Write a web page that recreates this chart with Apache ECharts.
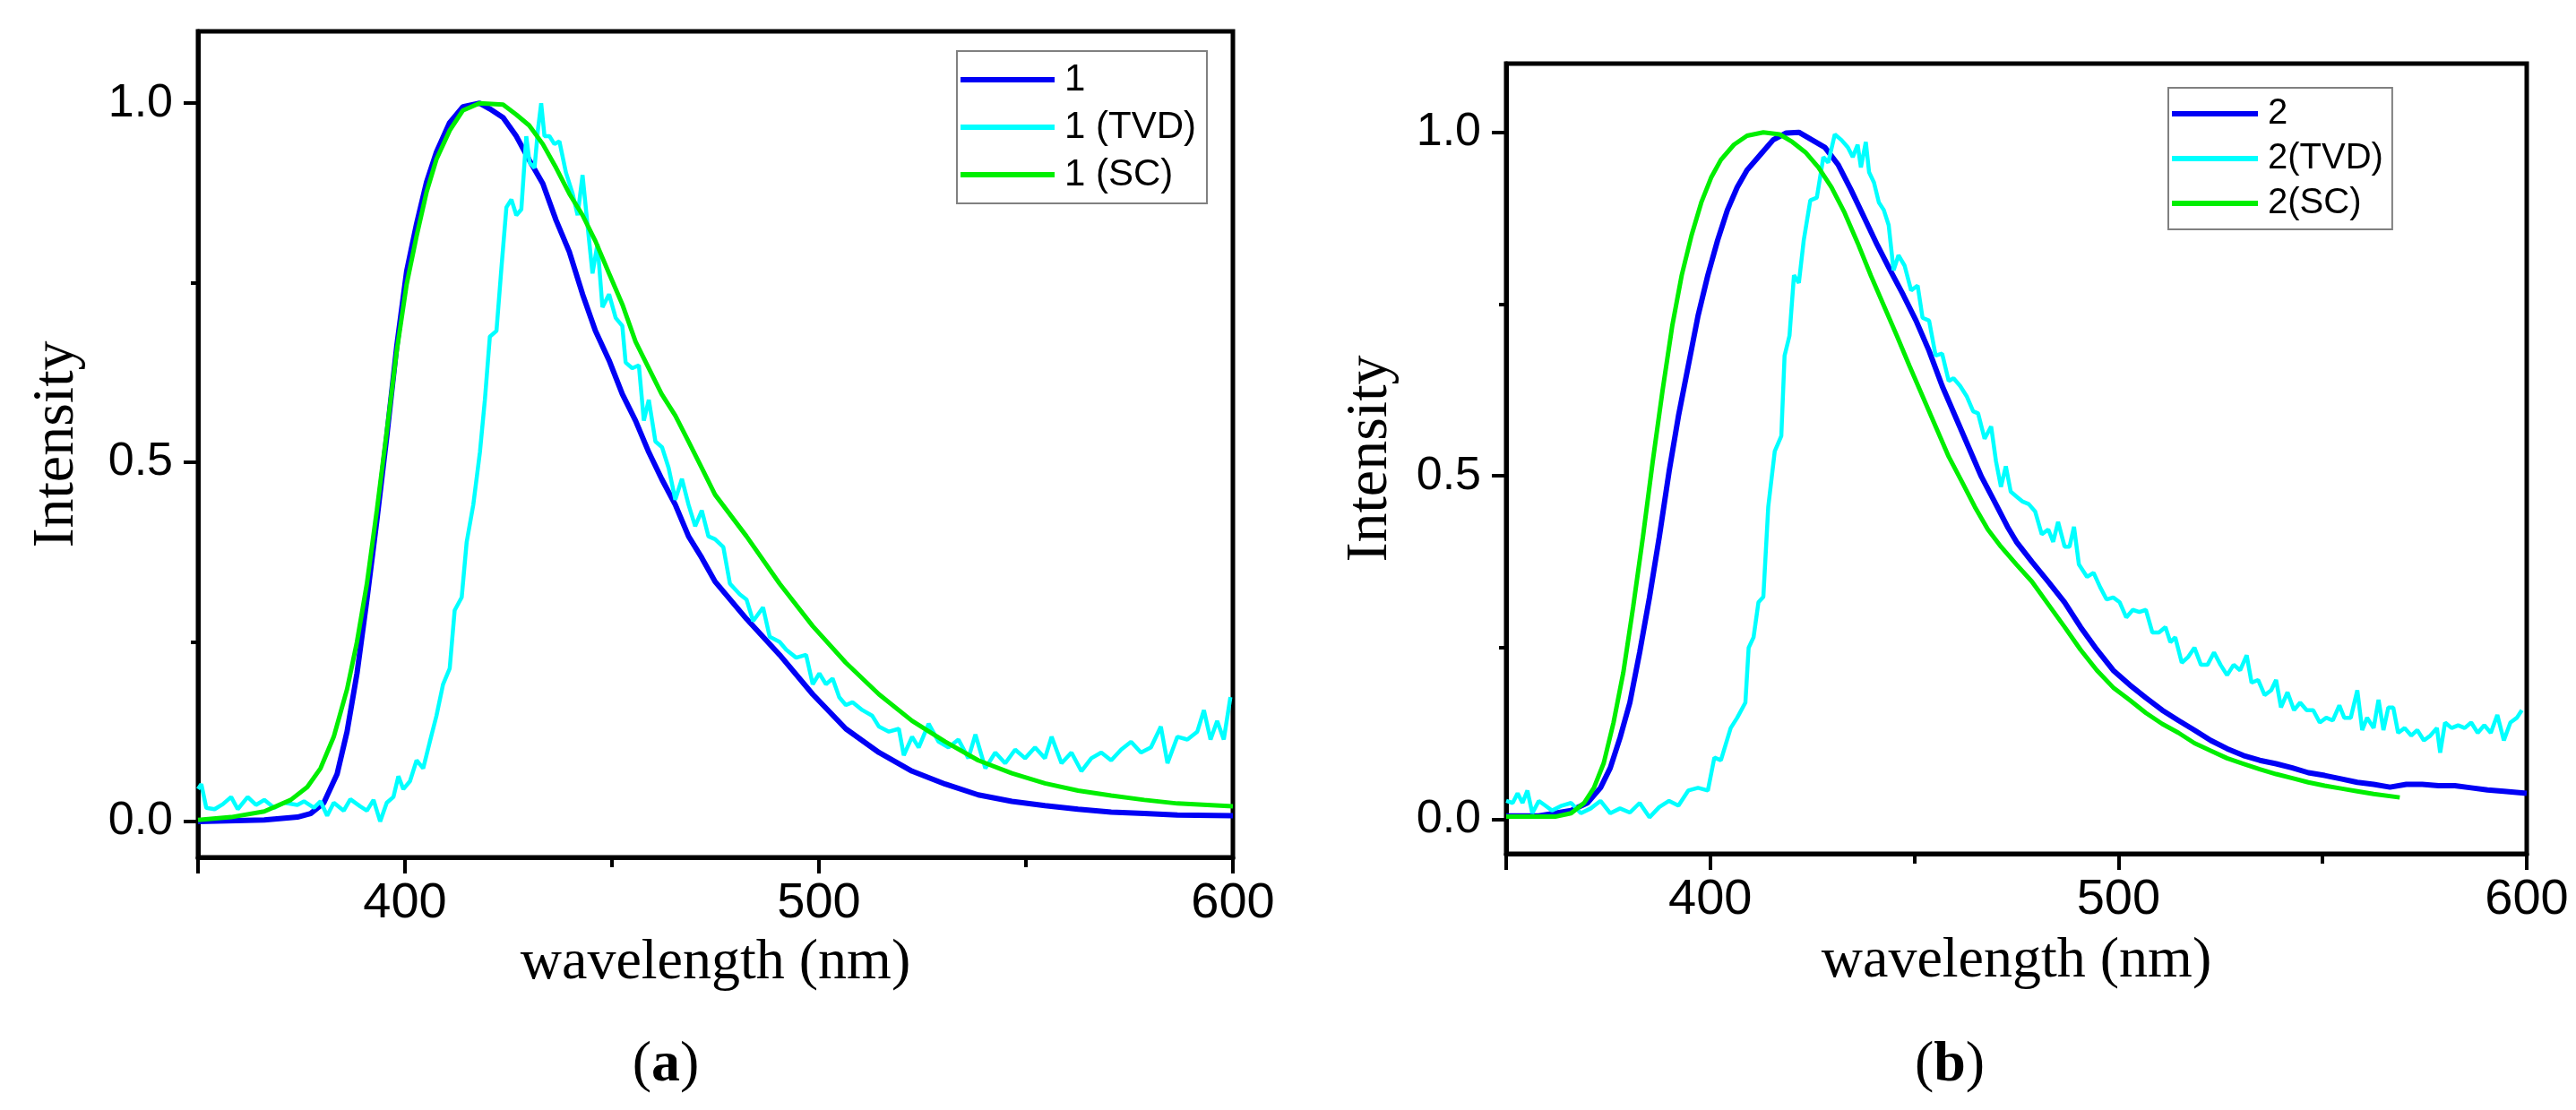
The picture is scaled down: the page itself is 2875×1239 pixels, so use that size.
<!DOCTYPE html>
<html>
<head>
<meta charset="utf-8">
<title>emission spectra</title>
<script src="https://cdn.jsdelivr.net/npm/echarts@6/dist/echarts.min.js"></script>
<style>
  html, body { margin: 0; padding: 0; background: #fff; }
  #chart { width: 2875px; height: 1239px; }
</style>
</head>
<body>
<div id="chart"></div>
<script>
// 读图得到的数据 [波长 nm, 强度]
const blue1 = [[350,0.0],[366,0.002],[374,0.006],[377.2,0.011],[380.4,0.026],[383.6,0.066],[386,0.125],[388.4,0.206],[390.8,0.309],[393.2,0.419],[395.6,0.536],[398,0.661],[400.4,0.766],[402.8,0.832],[405.2,0.89],[407.6,0.932],[410.8,0.973],[414,0.995],[418,1.0],[420.5,0.992],[423.7,0.98],[426.9,0.954],[430,0.921],[433.3,0.888],[436.5,0.837],[439.7,0.793],[442.9,0.734],[446,0.683],[449.3,0.642],[452.5,0.595],[455.7,0.558],[458.9,0.514],[462,0.477],[465.3,0.441],[468.5,0.397],[471.7,0.367],[474.9,0.334],[482.5,0.282],[490.5,0.232],[498.5,0.177],[506.5,0.129],[514.5,0.096],[522.5,0.070],[530.5,0.052],[538.5,0.037],[546.6,0.028],[554.6,0.022],[562.6,0.017],[570.6,0.013],[578.6,0.011],[586.6,0.009],[600,0.008]]

const tvd1 = [[350.0,0.045],[350.8,0.052],[352.0,0.019],[354.0,0.017],[356.0,0.024],[358.0,0.034],[359.6,0.017],[362.0,0.034],[364.0,0.023],[366.0,0.030],[368.4,0.019],[370.8,0.026],[374.0,0.023],[375.6,0.028],[378.0,0.019],[379.6,0.028],[381.2,0.008],[382.8,0.026],[385.2,0.015],[386.8,0.031],[389.2,0.021],[390.8,0.015],[392.4,0.030],[394.0,0.0],[395.6,0.026],[397.2,0.034],[398.4,0.063],[399.6,0.045],[401.2,0.056],[402.8,0.085],[404.4,0.074],[406.0,0.111],[407.6,0.147],[409.2,0.191],[410.8,0.213],[412.0,0.294],[413.7,0.312],[414.9,0.389],[416.5,0.441],[418.1,0.514],[419.3,0.587],[420.5,0.675],[422.1,0.683],[423.3,0.771],[424.5,0.855],[425.7,0.866],[426.9,0.844],[428.1,0.852],[429.3,0.954],[430.1,0.917],[431.3,0.91],[432.1,0.962],[432.9,1.0],[433.7,0.954],[434.9,0.954],[436.1,0.943],[437.3,0.947],[438.9,0.903],[440.5,0.874],[441.7,0.844],[442.9,0.9],[444.1,0.83],[445.3,0.763],[446.5,0.804],[447.7,0.716],[449.3,0.734],[450.9,0.701],[452.5,0.69],[453.3,0.639],[454.9,0.631],[456.5,0.635],[457.7,0.558],[458.9,0.587],[460.5,0.529],[462.1,0.521],[463.7,0.492],[465.3,0.448],[466.9,0.477],[468.5,0.441],[470.1,0.411],[471.7,0.433],[473.3,0.397],[474.9,0.393],
  [476.9,0.382],[478.5,0.331],[480.9,0.316],[482.5,0.309],[484.1,0.279],[486.5,0.298],[488.1,0.257],[490.5,0.25],[492.1,0.239],[494.5,0.228],[496.9,0.232],[498.5,0.191],[500.1,0.206],[501.7,0.191],[503.3,0.199],[504.9,0.173],[506.5,0.162],[508.1,0.166],[510.5,0.155],[512.9,0.147],[514.5,0.132],[516.9,0.125],[519.3,0.129],[520.5,0.092],[522.5,0.118],[524.1,0.103],[526.5,0.136],[528.9,0.111],[531.3,0.103],[533.7,0.114],[536.1,0.088],[537.8,0.121],[540.2,0.074],[542.6,0.096],[545.0,0.081],[547.4,0.1],[549.8,0.088],[552.2,0.103],[554.6,0.088],[556.2,0.118],[558.6,0.081],[561.0,0.096],[563.4,0.07],[565.8,0.088],[568.2,0.096],[570.6,0.085],[573.0,0.1],[575.4,0.111],[577.8,0.096],[580.2,0.103],[582.6,0.132],[584.2,0.081],[586.6,0.118],[589.0,0.114],[591.4,0.125],[593.0,0.155],[594.6,0.114],[596.2,0.14],[597.8,0.114],[599.4,0.173]]

const green1 = [[350,0.002],[358,0.006],[366,0.014],[372.4,0.030],[376.4,0.048],[379.6,0.074],[382.8,0.118],[386,0.184],[388.4,0.250],[390.8,0.331],[393.2,0.433],[395.6,0.543],[398,0.655],[400.4,0.748],[402.8,0.815],[405.2,0.876],[407.6,0.922],[410.8,0.962],[414,0.99],[418,1.0],[423.7,0.998],[426.9,0.984],[430,0.969],[433.3,0.943],[436.5,0.91],[439.7,0.874],[442.9,0.844],[446,0.808],[449.3,0.763],[452.5,0.72],[455.7,0.668],[458.9,0.631],[462,0.595],[465.3,0.565],[468.5,0.529],[471.7,0.492],[474.9,0.455],[482.5,0.397],[490.5,0.331],[498.5,0.272],[506.5,0.221],[514.5,0.177],[522.5,0.140],[530.5,0.111],[538.5,0.085],[546.6,0.067],[554.6,0.053],[562.6,0.043],[570.6,0.036],[578.6,0.030],[586.6,0.025],[600,0.021]]

const blue2 = [[350,0.005],[358,0.005],[365.9,0.013],[369.9,0.024],[373.1,0.046],[375.5,0.075],[377.9,0.119],[380.3,0.17],[382.7,0.243],[385.1,0.323],[387.5,0.411],[389.9,0.506],[392.2,0.587],[394.6,0.66],[397,0.733],[399.4,0.792],[401.8,0.843],[404.2,0.887],[406.6,0.92],[409,0.945],[412.2,0.967],[415.4,0.989],[418.6,0.999],[421.7,1.0],[424.9,0.989],[428.1,0.978],[431.3,0.953],[434.5,0.916],[437.7,0.876],[440.9,0.836],[444.1,0.799],[447.3,0.763],[450.4,0.726],[453.6,0.682],[456.8,0.631],[460,0.587],[463.2,0.543],[466.4,0.499],[469.6,0.463],[472.8,0.426],[475,0.404],[478.8,0.375],[482.8,0.346],[486.8,0.316],[490.7,0.28],[494.7,0.247],[498.7,0.217],[502.7,0.196],[506.7,0.177],[510.7,0.159],[514.7,0.144],[518.6,0.13],[522.6,0.115],[526.6,0.103],[530.6,0.093],[534.6,0.086],[538.6,0.081],[542.6,0.075],[546.5,0.068],[550.5,0.064],[554.5,0.059],[558.5,0.054],[562.5,0.051],[566.5,0.047],[570.5,0.051],[574.4,0.051],[578.4,0.049],[582.4,0.049],[586.4,0.046],[590.4,0.043],[594.4,0.041],[600,0.038]]

const tvd2 = [[350.0,0.027],[351.6,0.024],[352.8,0.038],[354.0,0.024],[355.2,0.042],[356.4,0.009],[358.0,0.027],[359.6,0.02],[361.2,0.013],[363.6,0.02],[365.9,0.024],[368.3,0.009],[370.7,0.016],[373.1,0.027],[375.5,0.009],[377.9,0.016],[380.3,0.01],[382.7,0.024],[385.1,0.003],[387.5,0.018],[389.9,0.027],[392.2,0.02],[394.6,0.042],[397.0,0.046],[399.4,0.042],[401.0,0.09],[402.6,0.086],[405.0,0.133],[406.6,0.148],[408.6,0.17],[409.4,0.25],[410.6,0.265],[411.8,0.316],[413.0,0.324],[414.2,0.455],[415.8,0.536],[417.4,0.558],[418.2,0.675],[419.4,0.704],[420.5,0.792],[421.7,0.781],[422.9,0.843],[424.5,0.901],[426.1,0.905],[427.7,0.964],[428.9,0.956],[430.5,0.997],[432.1,0.989],[433.7,0.978],[434.9,0.964],[436.1,0.982],[436.9,0.949],[438.1,0.986],[438.9,0.942],[440.1,0.927],[441.3,0.898],[442.5,0.887],[443.7,0.865],[444.9,0.799],[446.1,0.821],[447.6,0.806],[449.2,0.77],[450.8,0.777],[452.0,0.73],[453.6,0.726],[455.2,0.675],[456.8,0.678],[458.4,0.638],[459.6,0.642],[461.2,0.631],[462.8,0.616],[464.4,0.594],[465.6,0.591],[467.2,0.554],[468.8,0.572],[470.0,0.521],[471.2,0.484],[472.4,0.514],[473.6,0.477],[475.0,0.47],
  [476.4,0.463],[478.0,0.459],[479.6,0.448],[481.2,0.415],[482.8,0.422],[484.0,0.404],[485.2,0.433],[486.8,0.397],[488.0,0.397],[489.1,0.426],[490.3,0.371],[492.3,0.353],[493.9,0.359],[495.5,0.338],[497.1,0.32],[498.7,0.323],[500.3,0.316],[501.9,0.294],[503.5,0.305],[505.1,0.302],[506.7,0.305],[508.3,0.272],[509.9,0.272],[511.5,0.28],[512.7,0.258],[513.9,0.265],[515.5,0.228],[517.0,0.236],[518.6,0.25],[520.2,0.225],[521.8,0.225],[523.4,0.243],[525.0,0.225],[526.6,0.21],[528.2,0.225],[529.8,0.217],[531.4,0.239],[532.6,0.199],[534.2,0.203],[535.8,0.181],[537.4,0.188],[538.6,0.203],[539.8,0.163],[541.4,0.185],[543.0,0.159],[544.5,0.17],[546.1,0.159],[547.7,0.159],[549.3,0.141],[550.9,0.148],[552.5,0.144],[554.1,0.166],[555.3,0.148],[556.9,0.148],[558.5,0.188],[559.7,0.13],[560.9,0.148],[562.5,0.133],[563.7,0.174],[564.9,0.13],[566.1,0.163],[567.3,0.163],[568.5,0.126],[570.1,0.133],[571.7,0.122],[573.2,0.13],[574.8,0.115],[576.4,0.122],[578.0,0.133],[578.8,0.097],[580.0,0.141],[581.6,0.133],[583.2,0.137],[584.8,0.133],[586.4,0.141],[588.0,0.126],[589.6,0.137],[591.2,0.126],[592.8,0.152],[594.4,0.115],[596.0,0.141],[597.6,0.148],[598.8,0.159]]

const green2 = [[350,0.004],[362,0.004],[365.9,0.009],[369.1,0.024],[371.5,0.046],[373.9,0.082],[376.3,0.141],[378.7,0.214],[381.1,0.309],[383.5,0.411],[385.9,0.521],[388.3,0.624],[390.7,0.719],[393,0.792],[395.4,0.85],[397.8,0.898],[400.2,0.934],[402.6,0.96],[405.8,0.982],[409,0.995],[413,1.0],[417,0.997],[420.1,0.986],[423.3,0.971],[426.5,0.949],[429.7,0.92],[432.9,0.883],[436.1,0.839],[439.3,0.792],[442.5,0.748],[445.7,0.704],[448.8,0.66],[452,0.616],[455.2,0.572],[458.4,0.528],[461.6,0.492],[464.8,0.455],[468,0.422],[471.2,0.397],[475,0.371],[478.8,0.346],[482.8,0.313],[486.8,0.28],[490.7,0.247],[494.7,0.217],[498.7,0.192],[502.7,0.174],[506.7,0.155],[510.7,0.139],[514.7,0.126],[518.6,0.111],[522.6,0.1],[526.6,0.089],[530.6,0.081],[534.6,0.073],[538.6,0.066],[542.6,0.06],[546.5,0.054],[550.5,0.049],[554.5,0.045],[558.5,0.041],[562.5,0.037],[568.9,0.032]]

// 坐标轴刻度
const xMajorTicks = [350, 400, 500, 600]
const xMinorTicks = [450, 550]
const xLabels = [400, 500, 600]
const yMajorTicks = [0, 0.5, 1.0]
const yMinorTicks = [0.25, 0.75]
const yLabels = [0, 0.5, 1.0]

const names1 = ['1', '1 (TVD)', '1 (SC)']
const names2 = ['2', '2(TVD)', '2(SC)']
const colors = ['#0000f5', '#00ffff', '#00ee00']
const widths = [6, 4.5, 5]

const SANS = '"Liberation Sans", Arial, sans-serif'
const SERIF = '"Liberation Serif", "Times New Roman", serif'

function mainX(grid, gap) {
  return {
    type: 'value', gridIndex: grid, position: 'bottom', min: 350, max: 600,
    name: 'wavelength (nm)', nameLocation: 'middle', nameGap: gap,
    nameTextStyle: { fontFamily: SERIF, fontSize: 64, color: '#000' },
    axisLine: { onZero: false, lineStyle: { color: '#000', width: 5 } },
    axisTick: { customValues: xMajorTicks, length: 18, lineStyle: { color: '#000', width: 4 } },
    axisLabel: { customValues: xLabels, margin: 24, fontFamily: SANS, fontSize: 56, color: '#000' },
    splitLine: { show: false }
  }
}
// 次刻度单独放一根看不见线的轴上
function minorX(grid) {
  return {
    type: 'value', gridIndex: grid, position: 'bottom', min: 350, max: 600,
    axisLine: { show: false, onZero: false },
    axisTick: { customValues: xMinorTicks, length: 11, lineStyle: { color: '#000', width: 4 } },
    axisLabel: { show: false },
    splitLine: { show: false }
  }
}
function mainY(grid, gap) {
  return {
    type: 'value', gridIndex: grid, position: 'left', min: -0.05, max: 1.1,
    name: 'Intensity', nameLocation: 'middle', nameGap: gap,
    nameTextStyle: { fontFamily: SERIF, fontSize: 66, color: '#000' },
    axisLine: { onZero: false, lineStyle: { color: '#000', width: 5 } },
    axisTick: { customValues: yMajorTicks, length: 16, lineStyle: { color: '#000', width: 4 } },
    axisLabel: {
      customValues: yLabels, margin: 28, fontFamily: SANS, fontSize: 52, color: '#000',
      formatter: v => v.toFixed(1)
    },
    splitLine: { show: false }
  }
}
function minorY(grid) {
  return {
    type: 'value', gridIndex: grid, position: 'left', min: -0.05, max: 1.1,
    axisLine: { show: false, onZero: false },
    axisTick: { customValues: yMinorTicks, length: 8, lineStyle: { color: '#000', width: 4 } },
    axisLabel: { show: false },
    splitLine: { show: false }
  }
}
function line(name, data, k, axis) {
  return {
    name: name, type: 'line', data: data, xAxisIndex: axis, yAxisIndex: axis,
    showSymbol: false, symbol: 'none', animation: false,
    lineStyle: { color: colors[k], width: widths[k] },
    itemStyle: { color: colors[k] }
  }
}
function legendBox(names, left, top, w, size, gap, pad) {
  return {
    data: names, orient: 'vertical', left: left, top: top,
    icon: 'rect', itemWidth: w, itemHeight: 6, itemGap: gap,
    padding: pad, borderColor: '#808080', borderWidth: 2, backgroundColor: '#fff',
    selectedMode: false,
    textStyle: { fontFamily: SANS, fontSize: size, lineHeight: size + 2, color: '#000', padding: [0, 0, 0, 6] }
  }
}
function panelTag(letter, x) {
  return {
    type: 'text', x: x, y: 1189,
    style: {
      text: '{p|(}{b|' + letter + '}{p|)}',
      align: 'center', verticalAlign: 'middle',
      rich: {
        p: { fontFamily: SERIF, fontSize: 64, color: '#000' },
        b: { fontFamily: SERIF, fontSize: 64, fontWeight: 'bold', color: '#000' }
      }
    }
  }
}

const chart = echarts.init(document.getElementById('chart'))
const option = {
  animation: false,
  backgroundColor: '#fff',
  grid: [
    { left: 221, top: 35, width: 1155, height: 922, show: true, borderColor: '#000', borderWidth: 5 },
    { left: 1681, top: 71, width: 1139, height: 882, show: true, borderColor: '#000', borderWidth: 5 }
  ],
  xAxis: [mainX(0, 86), minorX(0), mainX(1, 88), minorX(1)],
  yAxis: [mainY(0, 124), minorY(0), mainY(1, 118), minorY(1)],
  legend: [
    legendBox(names1, 1068, 57, 105, 42, 9, [10, 12, 10, 4]),
    legendBox(names2, 2420, 98, 96, 40, 8, [8, 10, 8, 4])
  ],
  graphic: [panelTag('a', 743), panelTag('b', 2176)],
  series: [
    line(names1[0], blue1, 0, 0),
    line(names1[1], tvd1, 1, 0),
    line(names1[2], green1, 2, 0),
    line(names2[0], blue2, 0, 2),
    line(names2[1], tvd2, 1, 2),
    line(names2[2], green2, 2, 2)
  ]
}
chart.setOption(option)
</script>
</body>
</html>
